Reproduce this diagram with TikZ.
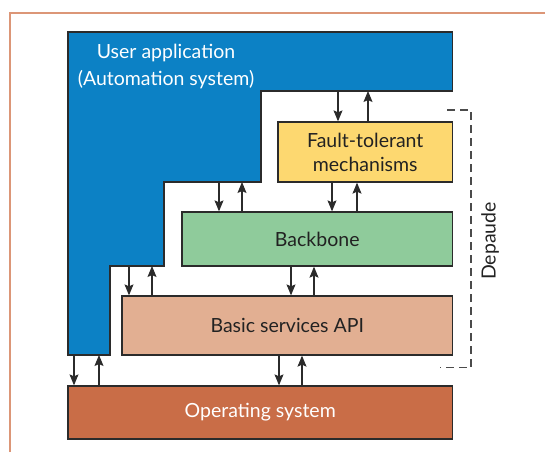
\documentclass[tikz,border=0pt]{standalone}
\usepackage{fontspec}
\setmainfont{Lato}
\usetikzlibrary{arrows.meta,calc}

\definecolor{appblue}{HTML}{0C81C5}
\definecolor{ftyellow}{HTML}{FDD870}
\definecolor{bbgreen}{HTML}{8FCB9B}
\definecolor{apisalmon}{HTML}{E2AF92}
\definecolor{osbrown}{HTML}{C96D47}
\definecolor{framecol}{HTML}{DC9677}
\definecolor{edgecol}{HTML}{2B2B2B}
\definecolor{textcol}{HTML}{222222}

\tikzset{
  layer/.style={draw=edgecol, line width=1.3pt, inner sep=0pt, align=center,
                font=\fontsize{19.5}{24}\selectfont, text=textcol},
  arr/.style={draw=edgecol, line width=1.1pt,
              -{Stealth[length=11pt,width=9pt,inset=2pt]}},
}

\begin{document}
\begin{tikzpicture}[x=1pt,y=-1pt]
  \useasboundingbox (0,0) rectangle (545,452);

  % partial outer frame
  \draw[framecol, line width=1.2pt] (10,452) -- (10,13) -- (545,13);

  % user application (stepped shape)
  \draw[draw=edgecol, line width=1.3pt, fill=appblue]
    (68,32) -- (452.5,32) -- (452.5,91) -- (261,91) -- (261,182)
    -- (164,182) -- (164,266) -- (110,266) -- (110,355) -- (68,355) -- cycle;
  \coordinate (uaA) at (261,91);
  \coordinate (uaB) at (164,182);
  \coordinate (uaC) at (110,266);
  \coordinate (uaD) at (68,355);
  \node[font=\fontsize{19.5}{27}\selectfont, text=white, align=center] (ua)
    at (166,66) {User application\\(Automation system)};

  % layers
  \node[layer, fill=ftyellow, minimum width=174.5pt, minimum height=60pt]
    (ft) at (365.25,152) {Fault-tolerant\\mechanisms};
  \node[layer, fill=bbgreen, minimum width=270.5pt, minimum height=54pt]
    (bb) at (317.25,239) {Backbone};
  \node[layer, fill=apisalmon, minimum width=330.5pt, minimum height=59pt]
    (api) at (287.25,325.5) {Basic services API};
  \node[layer, fill=osbrown, minimum width=384.5pt, minimum height=53pt,
        text=white] (os) at (260.25,412.5) {Operating system};

  % user application <-> fault-tolerant mechanisms
  \draw[arr] ([xshift=-27.25pt]ft.north |- uaA) -- ([xshift=-27.25pt]ft.north);
  \draw[arr] ([xshift=2.75pt]ft.north) -- ([xshift=2.75pt]ft.north |- uaA);
  % user application <-> backbone
  \draw[arr] ([xshift=-98.25pt]bb.north |- uaB) -- ([xshift=-98.25pt]bb.north);
  \draw[arr] ([xshift=-75.25pt]bb.north) -- ([xshift=-75.25pt]bb.north |- uaB);
  % fault-tolerant mechanisms <-> backbone
  \draw[arr] ([xshift=-33.25pt]ft.south) -- ([xshift=-33.25pt]ft.south |- bb.north);
  \draw[arr] ([xshift=-8.25pt]ft.south |- bb.north) -- ([xshift=-8.25pt]ft.south);
  % user application <-> basic services
  \draw[arr] ([xshift=-158.25pt]api.north |- uaC) -- ([xshift=-158.25pt]api.north);
  \draw[arr] ([xshift=-135.25pt]api.north) -- ([xshift=-135.25pt]api.north |- uaC);
  % backbone <-> basic services
  \draw[arr] ([xshift=-26.25pt]bb.south) -- ([xshift=-26.25pt]bb.south |- api.north);
  \draw[arr] ([xshift=-3.25pt]bb.south |- api.north) -- ([xshift=-3.25pt]bb.south);
  % user application <-> operating system
  \draw[arr] ([xshift=-186.25pt]os.north |- uaD) -- ([xshift=-186.25pt]os.north);
  \draw[arr] ([xshift=-161.25pt]os.north) -- ([xshift=-161.25pt]os.north |- uaD);
  % basic services <-> operating system
  \draw[arr] ([xshift=-8.25pt]api.south) -- ([xshift=-8.25pt]api.south |- os.north);
  \draw[arr] ([xshift=14.75pt]api.south |- os.north) -- ([xshift=14.75pt]api.south);

  % dashed bracket spanning the middleware layers
  \coordinate (brT) at (447,110);
  \coordinate (brB) at (440,367.5);
  \draw[edgecol!85, line width=1.2pt, dash pattern=on 8pt off 5pt]
    (brT) -- (471,110) -- (471,367.5) -- (brB);
  \node[rotate=90, font=\fontsize{19.5}{24}\selectfont, text=textcol] (dep)
    at (490,241) {Depaude};
\end{tikzpicture}
\end{document}
